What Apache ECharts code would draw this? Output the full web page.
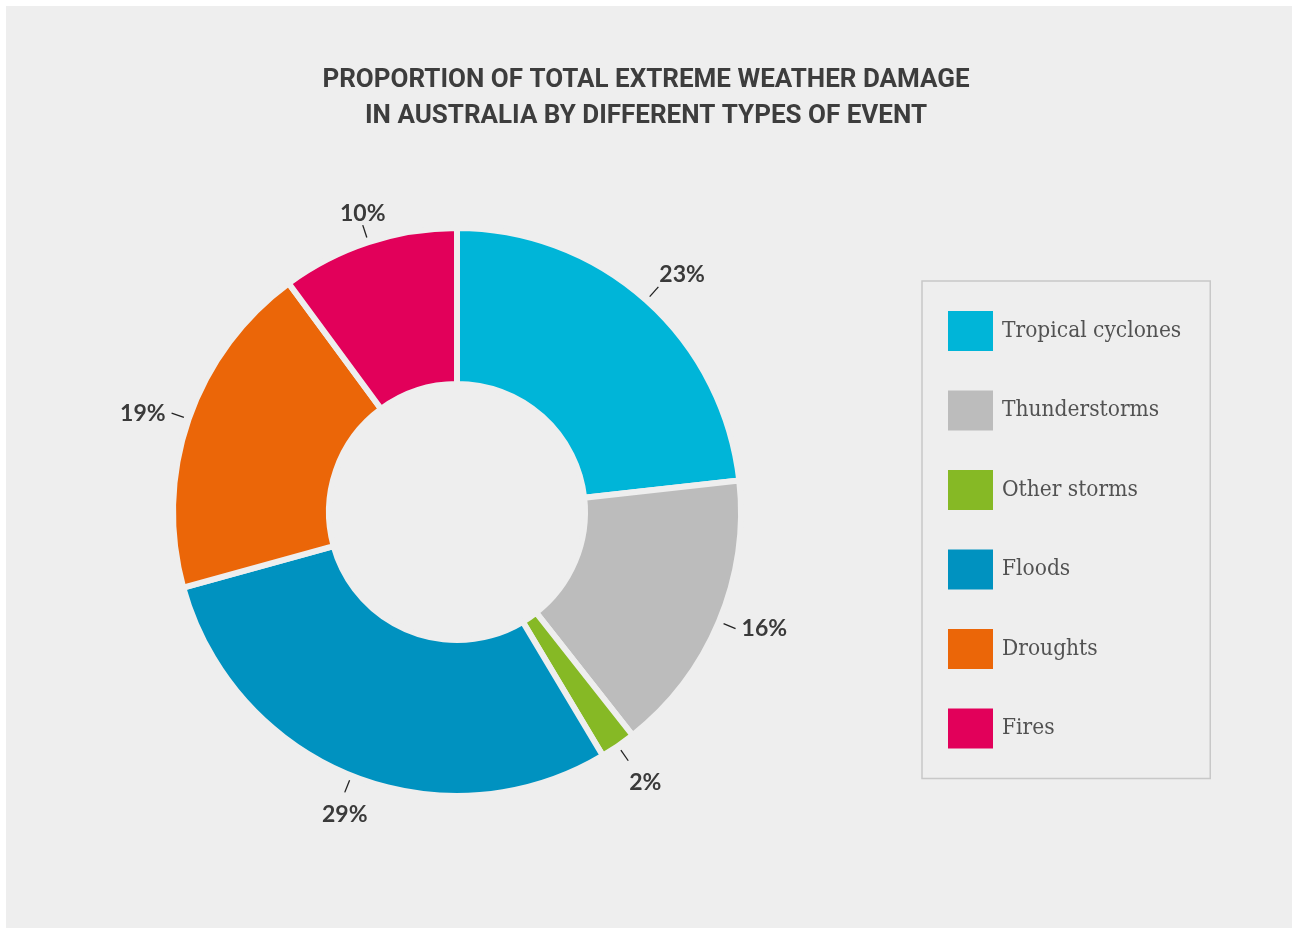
<!DOCTYPE html>
<html>
<head>
<meta charset="utf-8">
<script src="https://cdn.jsdelivr.net/npm/echarts@6/dist/echarts.min.js"></script>
<style>
  html, body { margin: 0; padding: 0; background: #ffffff; }
  #chart { width: 1292px; height: 928px; }
</style>
</head>
<body>
<div id="chart"></div>
<script>
// ---- data ----
const categories = ['Tropical cyclones', 'Thunderstorms', 'Other storms', 'Floods', 'Droughts', 'Fires'];
const shares = [23, 16, 2, 29, 19, 10];
const colors = ['#00b5d8', '#bcbcbc', '#86b925', '#0092c0', '#eb6608', '#e2005a'];
const titleLines = ['PROPORTION OF TOTAL EXTREME WEATHER DAMAGE', 'IN AUSTRALIA BY DIFFERENT TYPES OF EVENT'];

const chart = echarts.init(document.getElementById('chart'), null, { renderer: 'canvas' });

const center = [457, 512];
const mainData = categories.map((c, i) => ({ name: c, value: shares[i], itemStyle: { color: colors[i] } }));
const plainData = shares.map(v => ({ value: v }));

// mid angle of every slice (clockwise from 12 o'clock), derived from the shares
const total = shares.reduce((a, b) => a + b, 0);
const midAngles = [];
shares.reduce((acc, v) => { midAngles.push((acc + v / 2) / total * 2 * Math.PI); return acc + v; }, 0);

function placeLabel(p) {
  const a = midAngles[p.dataIndex];
  const ux = Math.sin(a), uy = -Math.cos(a);
  const w = p.labelRect.width;
  const sx = ux > 0.5 ? 1 : (ux < -0.5 ? -1 : 0);
  const sy = uy > 0.5 ? 1 : (uy < -0.5 ? -1 : 0);
  const gapX = Math.abs(uy) > 0.5 ? 1 : 6;
  return {
    dx: sx * (w / 2 + gapX),
    dy: sy < 0 ? -12 : (sy > 0 ? 22 : 0),
    hideOverlap: false,
    moveOverlap: null
  };
}

const option = {
  backgroundColor: '#ffffff',
  animation: false,
  graphic: [{
    type: 'rect', z: -10, silent: true,
    shape: { x: 6, y: 6, width: 1286, height: 922 },
    style: { fill: '#eeeeee' }
  }],
  title: {
    text: titleLines.join('\n'),
    left: 'center',
    top: 57,
    textStyle: {
      fontFamily: 'Roboto, sans-serif',
      fontWeight: 'bold',
      fontSize: 26,
      lineHeight: 36,
      color: '#3d3d3d'
    }
  },
  legend: {
    orient: 'vertical',
    left: 922,
    top: 281,
    padding: [30, 29, 30, 26],
    itemWidth: 45,
    itemHeight: 40,
    itemGap: 39.5,
    icon: 'rect',
    itemStyle: { borderWidth: 0 },
    borderColor: '#c8c8c8',
    borderWidth: 1.5,
    data: categories,
    selectedMode: false,
    textStyle: {
      fontFamily: '"DejaVu Serif Condensed", "DejaVu Serif", serif',
      fontSize: 22.5,
      color: '#525252',
      padding: [0, 0, 0, 4]
    }
  },
  series: [
    {
      type: 'pie',
      center: center,
      radius: [128, 284],
      startAngle: 90,
      clockwise: true,
      avoidLabelOverlap: false,
      silent: true,
      itemStyle: { borderColor: '#eeeeee', borderWidth: 6 },
      label: { show: false },
      labelLine: { show: false },
      emphasis: { disabled: true },
      data: mainData
    },
    {
      // leader ticks
      type: 'pie',
      center: center,
      radius: [0, 289],
      startAngle: 90,
      clockwise: true,
      avoidLabelOverlap: false,
      silent: true,
      itemStyle: { color: 'rgba(0,0,0,0)' },
      label: { show: true, position: 'outside', formatter: '{c}', color: 'rgba(0,0,0,0)', fontSize: 1 },
      labelLine: { show: true, length: 13, length2: 0, lineStyle: { color: '#222222', width: 1.3 } },
      labelLayout: { hideOverlap: false },
      emphasis: { disabled: true },
      data: plainData
    },
    {
      // percentage labels, anchored at the tick ends
      type: 'pie',
      center: center,
      radius: [237, 361],
      startAngle: 90,
      clockwise: true,
      avoidLabelOverlap: false,
      silent: true,
      itemStyle: { color: 'rgba(0,0,0,0)' },
      label: {
        show: true, position: 'inside', formatter: '{c}%',
        fontFamily: 'Lato, "Open Sans", sans-serif', fontWeight: 'bold', fontSize: 23, color: '#3a3a3a'
      },
      labelLine: { show: false },
      labelLayout: placeLabel,
      emphasis: { disabled: true },
      data: plainData
    }
  ]
};

chart.setOption(option);
</script>
</body>
</html>
